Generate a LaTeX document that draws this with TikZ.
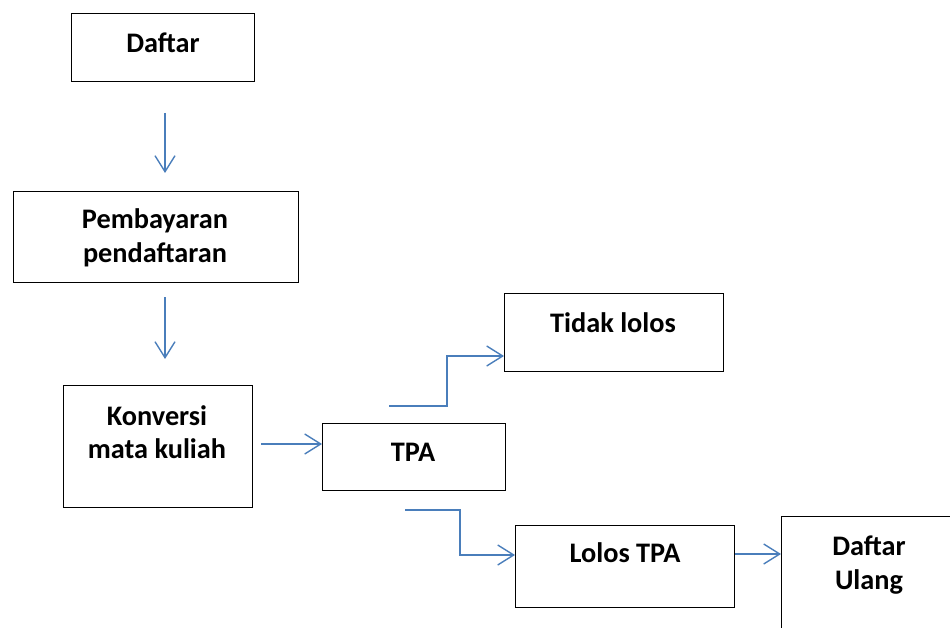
\documentclass[tikz,border=0pt]{standalone}
\usepackage{fontspec}
\setmainfont{Carlito}
\usetikzlibrary{arrows.meta}
\definecolor{conn}{HTML}{4A7EBB}
\begin{document}
\begin{tikzpicture}[x=1pt,y=-1pt,
  box/.style={draw=black,line width=1.3pt,inner sep=0pt,anchor=north west},
  lbl/.style={font=\fontsize{28.3}{33.5}\selectfont\bfseries,align=center,inner sep=0pt},
  conn/.style={draw=conn,line width=1.4pt,-{Straight Barb[length=16pt,width=20pt,line width=1.4pt]}},
]
\useasboundingbox (0,0) rectangle (950,628);
\clip (0,0) rectangle (950,628);
% boxes
\node[box,minimum width=183pt,minimum height=68pt] (daftar) at (71,13) {};
\node[box,minimum width=285pt,minimum height=91pt] (bayar) at (13,191) {};
\node[box,minimum width=189pt,minimum height=122pt] (konv) at (63,385) {};
\node[box,minimum width=183pt,minimum height=67pt] (tpa) at (322,423) {};
\node[box,minimum width=219pt,minimum height=78pt] (tidak) at (504,293) {};
\node[box,minimum width=219pt,minimum height=82pt] (lolos) at (515,525) {};
\node[box,minimum width=200pt,minimum height=140pt] (ulang) at (781,516) {};
% texts
\node[lbl] (tdaftar) at (163,43) {Daftar};
\node[lbl] (tbayar) at (155,238) {Pembayaran\\pendaftaran};
\node[lbl] (tkonv) at (157,432) {Konversi\\mata kuliah};
\node[lbl] (ttpa) at (413,452) {TPA};
\node[lbl] (ttidak) at (613,323) {Tidak lolos};
\node[lbl] (tlolos) at (625,553) {Lolos TPA};
\node[lbl] (tulang) at (869,565) {Daftar\\Ulang};
% connector end points
\coordinate (a1s) at (165,113);
\coordinate (a1e) at (165,173);
\coordinate (a2s) at (165,297);
\coordinate (a2e) at (165,359);
\coordinate (a3s) at (261,444);
\coordinate (a4s) at (389,406);
\coordinate (a4m) at (447,356);
\coordinate (a5s) at (405,510);
\coordinate (a5m) at (460,555);
\coordinate (a6s) at (734,554);
% connectors
\draw[conn] (a1s) -- (a1e);
\draw[conn] (a2s) -- (a2e);
\draw[conn] (a3s) -- (a3s -| tpa.west);
\draw[conn] (a4s) -| (a4m) -- (a4m -| tidak.west);
\draw[conn] (a5s) -| (a5m) -- (a5m -| lolos.west);
\draw[conn] (a6s -| lolos.east) -- (a6s -| ulang.west);
\end{tikzpicture}
\end{document}
